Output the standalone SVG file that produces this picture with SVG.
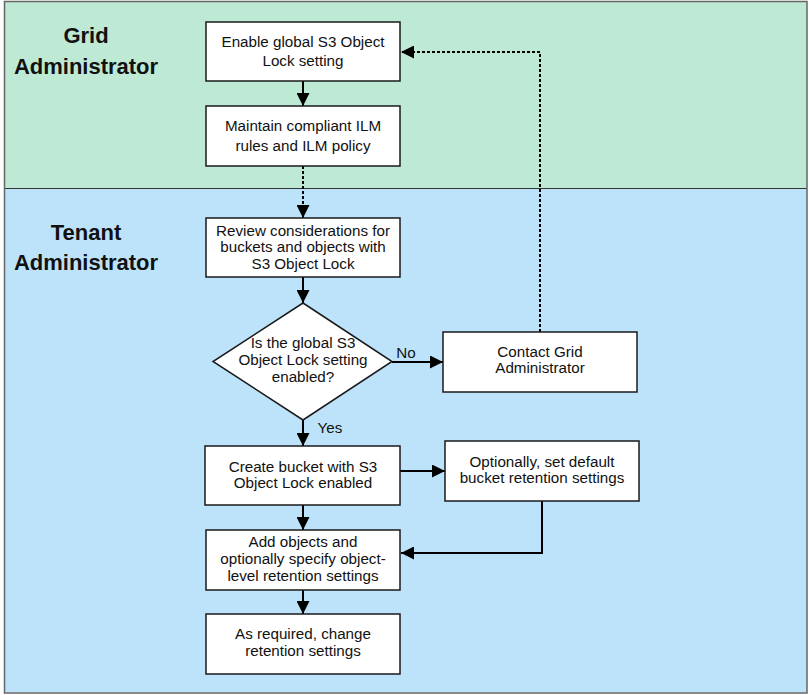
<svg xmlns="http://www.w3.org/2000/svg" width="809" height="695" viewBox="0 0 809 695">
<style>
.box{fill:#fff;stroke:#1a1a1a;stroke-width:1.5}
.t{font-family:"Liberation Sans",Arial,sans-serif;font-size:15.2px;fill:#111;text-anchor:middle}
.h{font-family:"Liberation Sans",Arial,sans-serif;font-size:22px;font-weight:bold;fill:#111;text-anchor:middle}
.c{fill:none;stroke:#000;stroke-width:2}
.d{fill:none;stroke:#000;stroke-width:2;stroke-dasharray:3 2}
</style>
<defs>
<marker id="ah" markerWidth="13" markerHeight="13" viewBox="0 0 13 13" refX="13" refY="6.5" orient="auto" markerUnits="userSpaceOnUse">
<path d="M0,0 L13,6.5 L0,13 Z" fill="#000"/>
</marker>
</defs>
<g id="lanes">
<rect x="4" y="1.5" width="803" height="187" fill="#bde9d5"/>
<rect x="4" y="188.5" width="803" height="504" fill="#bde3fb"/>
<line x1="4" y1="188.5" x2="807" y2="188.5" stroke="#333" stroke-width="1"/>
<rect x="4.5" y="1.5" width="802.5" height="691.5" fill="none" stroke="#666" stroke-width="1.5"/>
<text class="h" x="86" y="43">Grid</text>
<text class="h" x="86" y="74">Administrator</text>
<text class="h" x="86" y="240">Tenant</text>
<text class="h" x="86" y="270">Administrator</text>
</g>
<g id="connectors">
<line class="c" x1="303" y1="81" x2="303" y2="106" marker-end="url(#ah)"/>
<line class="d" x1="303" y1="166" x2="303" y2="218" marker-end="url(#ah)"/>
<line class="c" x1="303" y1="277" x2="303" y2="303" marker-end="url(#ah)"/>
<line class="c" x1="392" y1="362" x2="443" y2="362" marker-end="url(#ah)"/>
<polyline class="d" points="540,332 540,52 401,52" marker-end="url(#ah)"/>
<line class="c" x1="303" y1="420" x2="303" y2="446" marker-end="url(#ah)"/>
<line class="c" x1="399" y1="471" x2="445" y2="471" marker-end="url(#ah)"/>
<polyline class="c" points="542,501 542,553 401,553" marker-end="url(#ah)"/>
<line class="c" x1="303" y1="505" x2="303" y2="530" marker-end="url(#ah)"/>
<line class="c" x1="303" y1="590" x2="303" y2="614" marker-end="url(#ah)"/>
<text class="t" x="406" y="358">No</text>
<text class="t" x="330" y="433">Yes</text>
</g>
<g id="n1">
<rect class="box" x="206" y="22" width="194" height="59"/>
<text class="t" x="303" y="47">Enable global S3 Object</text>
<text class="t" x="303" y="66">Lock setting</text>
</g>
<g id="n2">
<rect class="box" x="206" y="106" width="194" height="60"/>
<text class="t" x="303" y="131">Maintain compliant ILM</text>
<text class="t" x="303" y="151">rules and ILM policy</text>
</g>
<g id="n3">
<rect class="box" x="206" y="218" width="194" height="59"/>
<text class="t" x="303" y="236">Review considerations for</text>
<text class="t" x="303" y="252">buckets and objects with</text>
<text class="t" x="303" y="269">S3 Object Lock</text>
</g>
<g id="n4">
<polygon class="box" points="303,303 392,361.5 303,420 213,361.5"/>
<text class="t" x="303" y="348">Is the global S3</text>
<text class="t" x="303" y="365">Object Lock setting</text>
<text class="t" x="303" y="382">enabled?</text>
</g>
<g id="n5">
<rect class="box" x="443" y="332" width="194" height="60"/>
<text class="t" x="540" y="357">Contact Grid</text>
<text class="t" x="540" y="373">Administrator</text>
</g>
<g id="n6">
<rect class="box" x="205" y="446" width="195" height="59"/>
<text class="t" x="303" y="472">Create bucket with S3</text>
<text class="t" x="303" y="488">Object Lock enabled</text>
</g>
<g id="n7">
<rect class="box" x="445" y="441" width="194" height="60"/>
<text class="t" x="542" y="467">Optionally, set default</text>
<text class="t" x="542" y="483">bucket retention settings</text>
</g>
<g id="n8">
<rect class="box" x="206" y="530" width="194" height="60"/>
<text class="t" x="303" y="547">Add objects and</text>
<text class="t" x="303" y="564">optionally specify object-</text>
<text class="t" x="303" y="581">level retention settings</text>
</g>
<g id="n9">
<rect class="box" x="206" y="614" width="194" height="60"/>
<text class="t" x="303" y="639">As required, change</text>
<text class="t" x="303" y="656">retention settings</text>
</g>
</svg>
